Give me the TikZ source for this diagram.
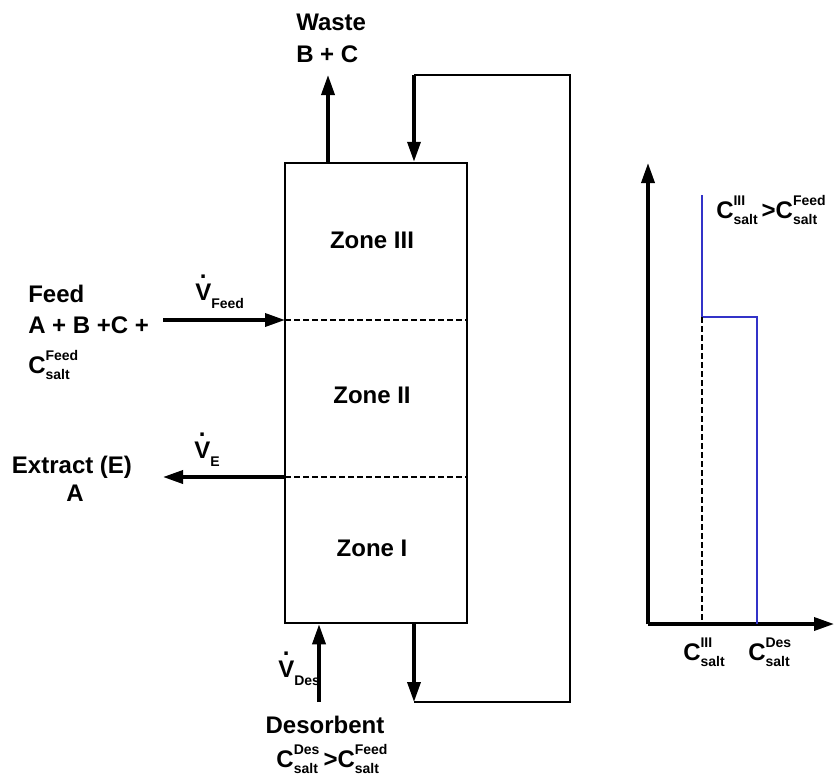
\documentclass[tikz,border=0pt]{standalone}
\usepackage{fontspec}
\setmainfont{Liberation Sans}
\usetikzlibrary{arrows.meta,positioning}
\definecolor{saltblue}{RGB}{50,50,200}
% small label text for indices
\newcommand{\lbl}[1]{{\fontsize{14}{14}\selectfont #1}}
% salt concentration with upper index
\newcommand{\Csalt}[1]{C\ooalign{\raisebox{13pt}{\lbl{#1}}\cr\raisebox{-6pt}{\lbl{salt}}\cr}}
% volume flow with dot
\newcommand{\Vdot}[1]{\ooalign{V\cr\hidewidth\raisebox{22pt}{.}\hidewidth\cr}\raisebox{-8pt}{\lbl{#1}}}
\begin{document}
\begin{tikzpicture}[x=1pt, y=-1pt, line width=2.5pt,
    every node/.style={font=\fontsize{24}{28}\selectfont\bfseries, inner sep=0pt},
    flow/.style={line width=3.5pt, -{Triangle[length=20pt,width=13pt]}},
    zoneline/.style={line width=2.2pt, dash pattern=on 6pt off 3pt},
    profile/.style={line width=2pt, draw=saltblue}]
    \useasboundingbox (0,0) rectangle (834,782);
    % Column with three zones
    \node[draw, minimum width=182pt, minimum height=460pt] (column) at (376,393) {};
    \node (zone3) at (372,240) {Zone III};
    \node (zone2) at (372,395) {Zone II};
    \node (zone1) at (372,548) {Zone I};
    \coordinate (feedin) at (285,320);
    \coordinate (extout) at (285,477);
    \draw[zoneline] (feedin) -- (column.east |- feedin);
    \draw[zoneline] (extout) -- (column.east |- extout);
    % Feed inlet
    \coordinate (feedstart) at (163,320);
    \draw[flow] (feedstart) -- (feedin);
    \node[anchor=base west] (feedname) at (27,302) {Feed};
    \node[anchor=base west] (feedmix) at (27,333) {A + B +C +};
    \node[anchor=base west] (feedsalt) at (27,373) {\Csalt{Feed}};
    \node[anchor=base west] (vfeed) at (194,300) {\Vdot{Feed}};
    % Extract outlet
    \coordinate (extend) at (163,477);
    \draw[flow] (extout) -- (extend);
    \node[anchor=base] (extract) at (72,473) {Extract (E)};
    \node[anchor=base] (extractA) at (75,501) {A};
    \node[anchor=base west] (vext) at (193,458) {\Vdot{E}};
    % Waste outlet
    \coordinate (wasteend) at (328,75);
    \draw[flow] (wasteend |- column.north) -- (wasteend);
    \node[anchor=base west] (waste) at (295,30) {Waste};
    \node[anchor=base west] (wastemix) at (295,62) {B + C};
    % Recycle loop
    \coordinate (loopbl) at (414,702);
    \coordinate (loopbr) at (570,702);
    \coordinate (looptr) at (570,75);
    \coordinate (looptl) at (414,75);
    \draw[flow] (loopbl |- column.south) -- (loopbl);
    \draw (loopbl) -- (loopbr) -- (looptr) -- (looptl);
    \draw[flow] (looptl) -- (looptl |- column.north);
    % Desorbent inlet
    \coordinate (desin) at (319,702);
    \draw[flow] (desin) -- (desin |- column.south);
    \node[anchor=base west] (vdes) at (277,677) {\Vdot{Des}};
    \node[anchor=base] (desorb) at (325,733) {Desorbent};
    \node[anchor=base] (dessalt) at (332,767) {\Csalt{Des}\,>\Csalt{Feed}};
    % Salt profile plot
    \coordinate (origin) at (648,624);
    \coordinate (xend) at (834,624);
    \coordinate (yend) at (648,163);
    \draw[flow] (origin) -- (xend);
    \draw[flow] (origin) -- (yend);
    \coordinate (steptop) at (702,195);
    \coordinate (stepknee) at (702,317);
    \coordinate (stepright) at (757,317);
    \draw[profile] (steptop) -- (stepknee) -- (stepright) -- (stepright |- origin);
    \draw[zoneline] (stepknee) -- (stepknee |- origin);
    \node[anchor=base west] (cmax) at (715,218) {\Csalt{III}\,>\Csalt{Feed}};
    \node[anchor=base west] (c3) at (682,660) {\Csalt{III}};
    \node[anchor=base west] (cdes) at (747,660) {\Csalt{Des}};
\end{tikzpicture}
\end{document}
